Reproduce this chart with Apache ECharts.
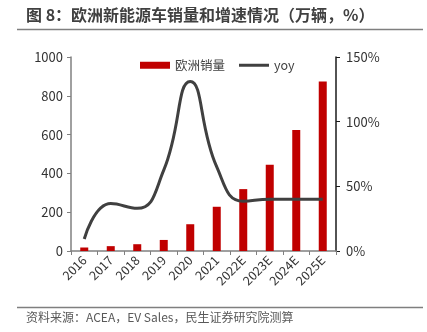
<!DOCTYPE html>
<html>
<head>
<meta charset="utf-8">
<script src="https://cdn.jsdelivr.net/npm/echarts@6/dist/echarts.min.js"></script>
<style>html,body{margin:0;padding:0;background:#fff;}#c{width:427px;height:332px;}</style>
</head>
<body>
<div id="c"></div>
<script>
var categories = ['2016','2017','2018','2019','2020','2021','2022E','2023E','2024E','2025E'];
var salesValues = [18, 25, 35, 57, 138, 228, 319, 445, 624, 874];
var yoyValues = [9.3, 36.7, 33, 62.5, 131, 65, 38.5, 40, 40, 40];
var leftTicks = [0, 200, 400, 600, 800, 1000];
var rightTicks = [0, 50, 100, 150];
var titleText = '图 8：欧洲新能源车销量和增速情况（万辆，%）';
var sourceText = '资料来源：ACEA，EV Sales，民生证券研究院测算';

var FONT = '"Noto Sans CJK SC", "Noto Sans", sans-serif';
var chart = echarts.init(document.getElementById('c'), null, {renderer: 'canvas'});
chart.setOption({
  animation: false,
  textStyle: {fontFamily: FONT},
  grid: {left: 71, right: 91, top: 57, bottom: 81, containLabel: false},
  legend: {
    left: 135, top: 54,
    itemWidth: 30, itemHeight: 7, itemGap: 14,
    textStyle: {fontSize: 12.5, color: '#404040', fontFamily: FONT},
    data: [
      {name: '欧洲销量', icon: 'rect'},
      {name: 'yoy', icon: 'path://M0 0H30V3H0Z', itemStyle: {color: '#404040'}}
    ]
  },
  xAxis: {
    type: 'category',
    data: categories,
    boundaryGap: true,
    axisLine: {lineStyle: {color: '#808080', width: 1.5}},
    axisTick: {show: true, length: 4, lineStyle: {color: '#808080'}},
    axisLabel: {rotate: 45, fontSize: 12.5, color: '#333', margin: 7, interval: 0, fontFamily: FONT}
  },
  yAxis: [
    {
      type: 'value', min: leftTicks[0], max: leftTicks[leftTicks.length - 1], interval: 200,
      splitLine: {show: false},
      axisLine: {show: true, lineStyle: {color: '#808080', width: 1.5}},
      axisTick: {show: true, length: 4, lineStyle: {color: '#808080'}},
      axisLabel: {fontSize: 13, color: '#333', margin: 8, fontFamily: FONT,
        formatter: function (v) { return String(v); }}
    },
    {
      type: 'value', min: rightTicks[0], max: rightTicks[rightTicks.length - 1], interval: 50,
      position: 'right',
      splitLine: {show: false},
      axisLine: {show: true, lineStyle: {color: '#1a1a1a', width: 1.5}},
      axisTick: {show: true, length: 4, lineStyle: {color: '#1a1a1a'}},
      axisLabel: {fontSize: 13, color: '#333', margin: 10, formatter: '{value}%', fontFamily: FONT}
    }
  ],
  series: [
    {
      name: '欧洲销量', type: 'bar', yAxisIndex: 0,
      data: salesValues, barWidth: 8,
      itemStyle: {color: '#C00000'}
    },
    {
      name: 'yoy', type: 'line', yAxisIndex: 1,
      data: yoyValues, smooth: 0.5, symbol: 'none',
      lineStyle: {color: '#404040', width: 3},
      itemStyle: {color: '#404040'}
    }
  ],
  graphic: [
    {type: 'text', left: 26, top: 7, style: {text: titleText, font: 'bold 16px ' + FONT, fill: '#404040'}},
    {type: 'line', shape: {x1: 17, y1: 29.5, x2: 423, y2: 29.5}, style: {stroke: '#7f7f7f', lineWidth: 1.5}},
    {type: 'line', shape: {x1: 17, y1: 307.5, x2: 423, y2: 307.5}, style: {stroke: '#7f7f7f', lineWidth: 1.5}},
    {type: 'text', left: 26, top: 311, style: {text: sourceText, font: '12px ' + FONT, fill: '#595959'}}
  ]
});
</script>
</body>
</html>
